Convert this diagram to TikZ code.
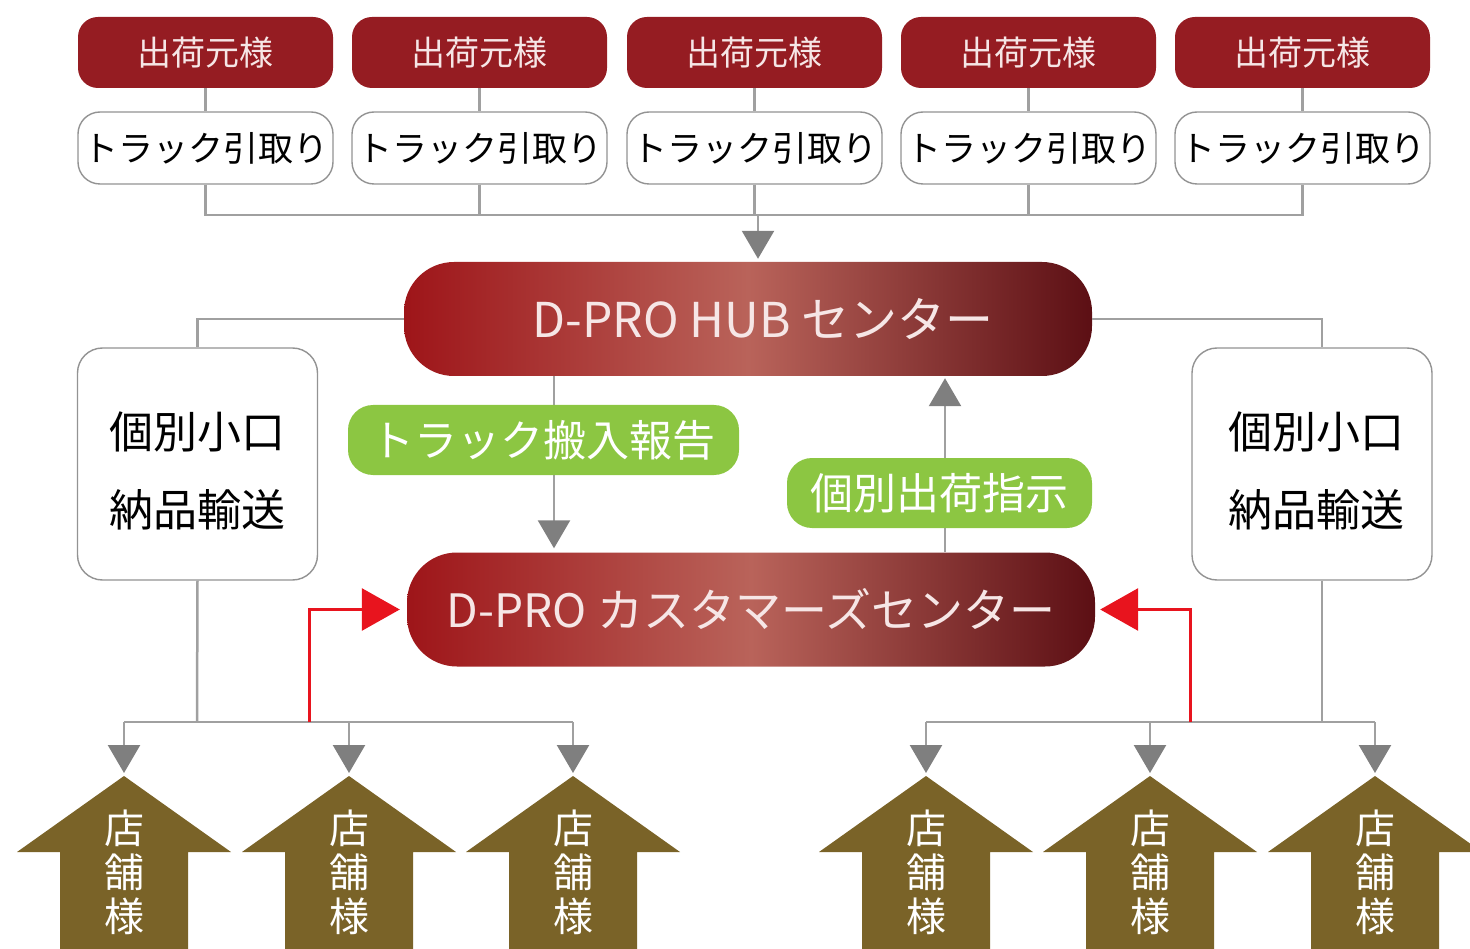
\documentclass[tikz,border=0pt]{standalone}
\usepackage{fontspec}
\setmainfont{Noto Sans CJK JP}
\usetikzlibrary{arrows.meta}
\definecolor{boxred}{HTML}{951C22}
\definecolor{gline}{HTML}{A0A0A0}
\definecolor{garrowc}{HTML}{7F7F7F}
\definecolor{lgreen}{HTML}{8CC642}
\definecolor{brownc}{HTML}{7A6328}
\definecolor{redarr}{HTML}{E8141E}
\definecolor{gradL}{HTML}{9E1519}
\definecolor{gradM}{HTML}{B9635A}
\definecolor{gradR}{HTML}{5C0F14}
\definecolor{boxtext}{HTML}{F6E6E6}
\tikzset{
  shipper/.style={fill=boxred, rounded corners=20pt, minimum width=255pt, minimum height=71pt,
    text=boxtext, font=\fontsize{34}{34}\selectfont, inner sep=0pt},
  truck/.style={draw=gray!85, line width=1.4pt, fill=white, rounded corners=22pt,
    minimum width=255pt, minimum height=72pt, font=\fontsize{35}{35}\selectfont, inner sep=0pt},
  hubbox/.style={rounded corners=50pt, left color=gradL, right color=gradR, middle color=gradM,
    minimum width=688pt, minimum height=114pt, text=boxtext, inner sep=0pt},
  smallbox/.style={draw=gray!85, line width=1.4pt, fill=white, rounded corners=25pt,
    minimum width=240pt, minimum height=232pt, inner sep=0pt},
  smalltext/.style={align=center, font=\fontsize{44}{78}\selectfont, inner sep=0pt},
  glabel/.style={fill=lgreen, rounded corners=25pt, minimum height=70pt, text=white,
    font=\fontsize{43}{43}\selectfont, inner sep=0pt},
  storetext/.style={text=white, align=center, font=\fontsize{40}{44}\selectfont, inner sep=0pt},
  ln/.style={gline, line width=2.5pt},
  garr/.style={ln, -{Triangle[width=32pt,length=28pt,color=garrowc]}},
  rarr/.style={redarr, line width=3pt, -{Triangle[width=42pt,length=38pt]}},
  house/.style={fill=brownc}
}
\begin{document}
\begin{tikzpicture}[x=1pt,y=-1pt]
\useasboundingbox (0,0) rectangle (1470,949);
\begin{scope}
\clip (0,0) rectangle (1470,949);
% top row
\foreach \i/\cx in {1/205.5,2/479.5,3/754.5,4/1028.5,5/1302.5}{
  \node[shipper] (r\i) at (\cx,52.5) {出荷元様};
  \node[truck] (w\i) at (\cx,148) {トラック引取り};
  \draw[ln] (r\i.south) -- (w\i.north);
}
\coordinate (bus) at (758,215);
\draw[ln] (w1.south) |- (bus) -| (w5.south);
\foreach \i in {2,3,4}{ \draw[ln] (w\i.south) -- (w\i.south |- bus); }
% hub
\node[hubbox, font=\fontsize{48}{48}\selectfont] (hub) at (748,319) {\hspace*{30pt}D-PRO HUB センター};
\draw[garr, shorten >=3pt] (bus) -- (hub.north -| bus);
% lower bus points
\coordinate (lbus) at (197,722);
\coordinate (rbus) at (1322,722);
% side boxes
\node[smallbox] (lbox) at (197.5,464) {};
\node[smalltext] (ltext) at (197.5,471) {個別小口\\納品輸送};
\node[smallbox] (rbox) at (1312,464) {};
\node[smalltext] (rtext) at (1316,471) {個別小口\\納品輸送};
\draw[ln] (hub.west) -| (lbox.north);
\draw[ln] (hub.east) -| (rbox.north -| rbus);
% customer center
\node[hubbox, font=\fontsize{46}{46}\selectfont] (cust) at (751,609.5) {D-PRO カスタマーズセンター};
\coordinate (d1) at (554,0);
\coordinate (d2) at (945,0);
\draw[garr, shorten >=4pt] (hub.south -| d1) -- (cust.north -| d1);
\draw[garr, shorten >=2pt] (cust.north -| d2) -- (hub.south -| d2);
\node[glabel, minimum width=391pt] (g1) at (543.5,440) {トラック搬入報告};
\node[glabel, minimum width=305pt] (g2) at (939.5,493) {個別出荷指示};
% lower buses
\draw[ln] (lbox.south) -- (lbus);
\draw[ln] (rbox.south -| rbus) -- (rbus);
% stores
\foreach \i/\c in {1/124,2/349,3/573,4/926,5/1150,6/1375}{
  \fill[house] (\c,776) -- (\c+107,852) -- (\c+64,852) -- (\c+64,960) -- (\c-64,960)
     -- (\c-64,852) -- (\c-107,852) -- cycle;
  \node[storetext] (s\i) at (\c,872) {店\\舗\\様};
  \coordinate (a\i) at (\c,776);
}
\draw[ln] (a1 |- lbus) -- (a3 |- lbus);
\draw[ln] (a4 |- rbus) -- (a6 |- rbus);
\foreach \i/\b in {1/lbus,2/lbus,3/lbus,4/rbus,5/rbus,6/rbus}{
  \draw[garr, shorten >=3pt] (a\i |- \b) -- (a\i);
}
% red arrows
\coordinate (rl) at (309,722);
\coordinate (rr) at (1190,722);
\draw[rarr, shorten >=7pt] (rl) |- (cust.west);
\draw[rarr, shorten >=5pt] (rr) |- (cust.east);
\end{scope}
\end{tikzpicture}
\end{document}
